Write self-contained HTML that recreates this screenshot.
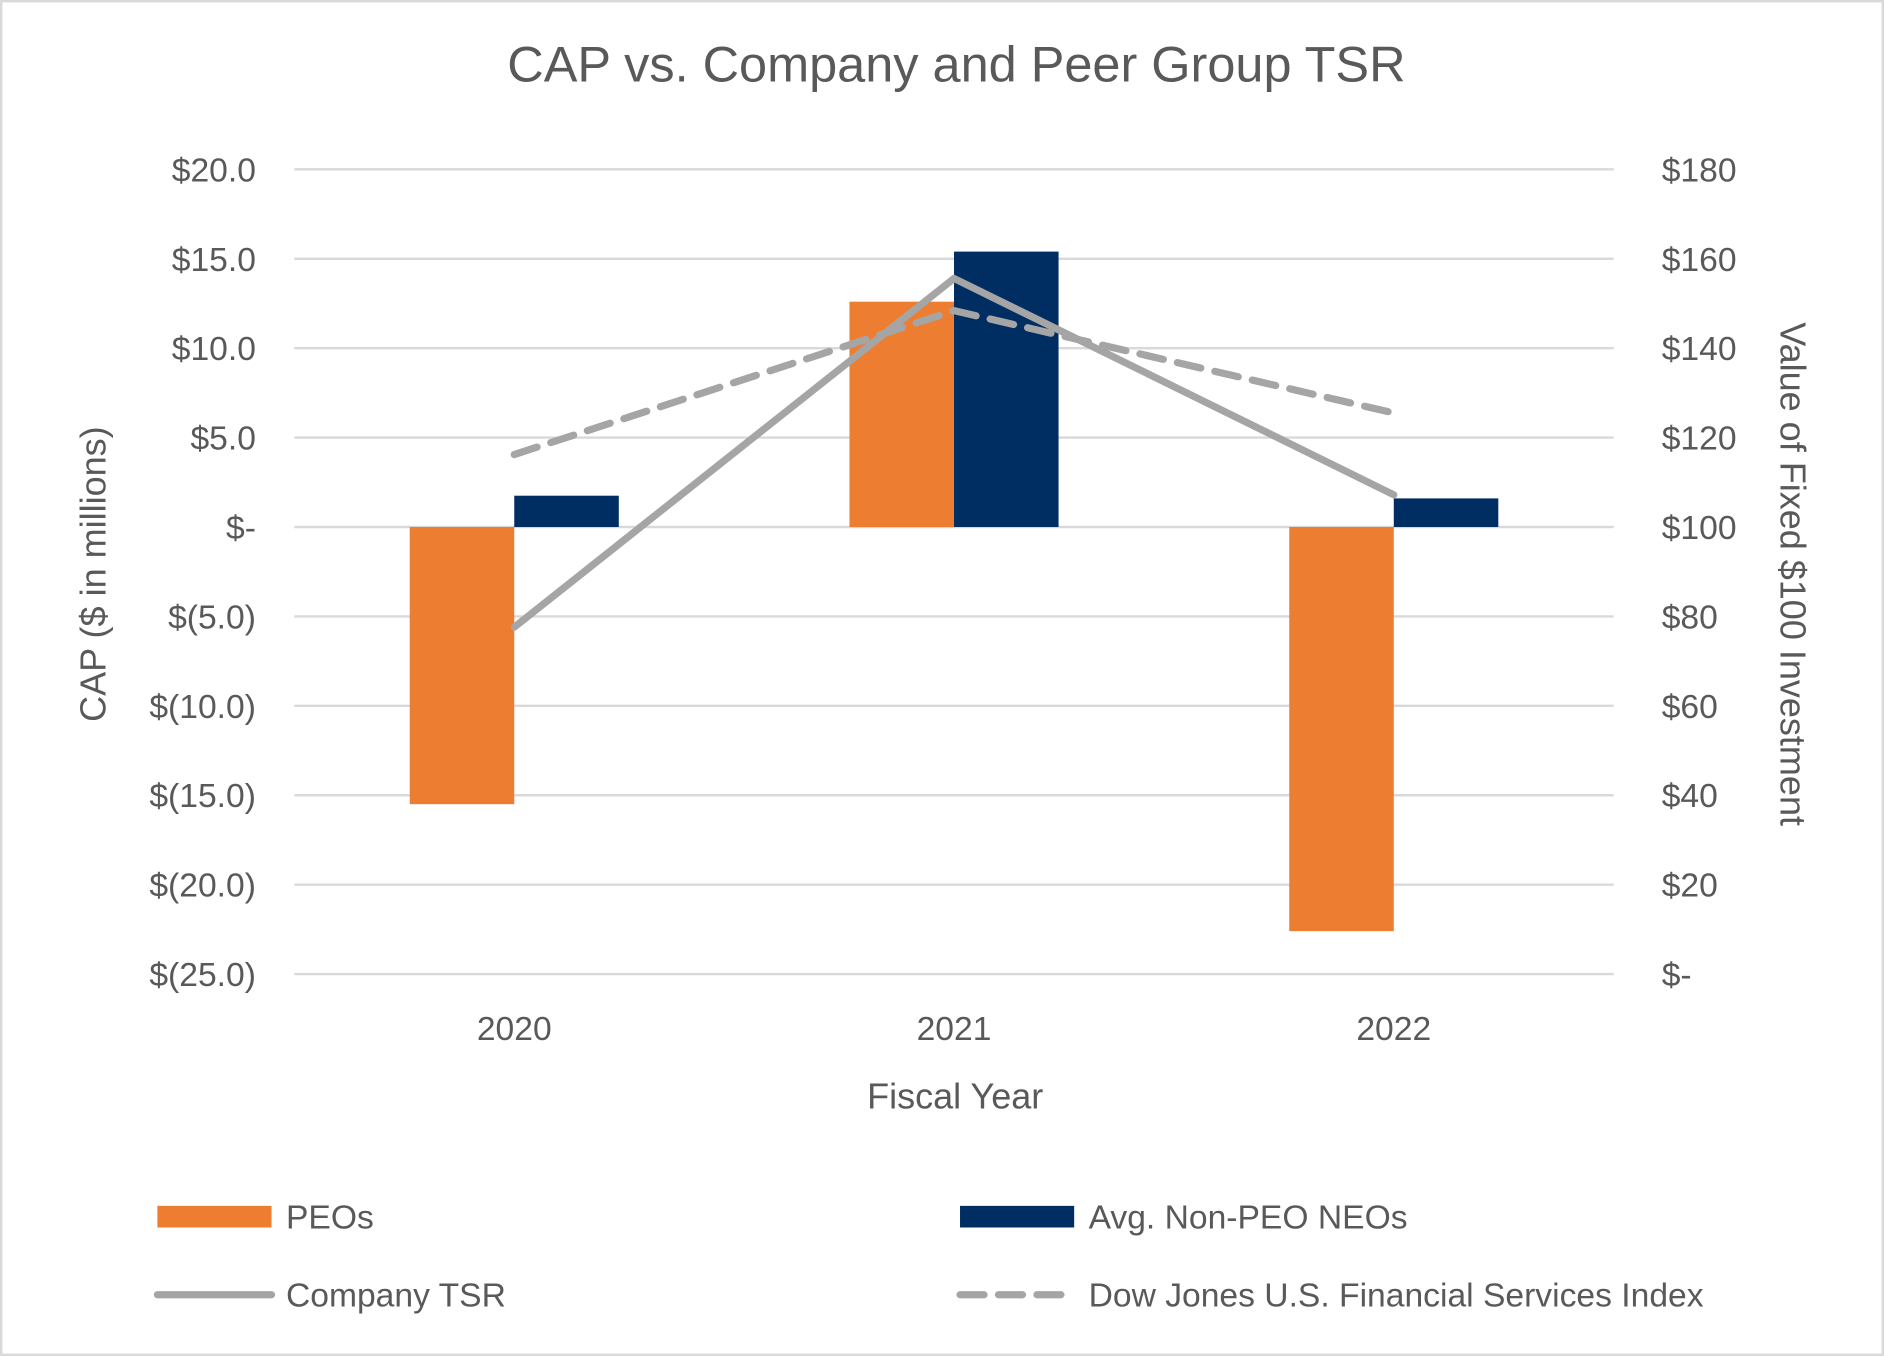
<!DOCTYPE html>
<html><head><meta charset="utf-8"><style>
html,body{margin:0;padding:0;background:#fff;}
svg{display:block;font-family:"Liberation Sans",sans-serif;}
</style></head><body>
<svg id="chart" width="1884" height="1356" viewBox="0 0 1568 1129" preserveAspectRatio="none">
<rect x="1" y="1" width="1566" height="1127" fill="#fff" stroke="#d9d9d9" stroke-width="2"/>
<text x="796" y="68" text-anchor="middle" font-size="42" fill="#595959">CAP vs. Company and Peer Group TSR</text>
<g id="grid"></g>
<g id="bars"></g>
<g id="lines"></g>
<g id="axes"></g>
<text transform="translate(88,478) rotate(-90)" text-anchor="middle" font-size="30" fill="#595959">CAP ($ in millions)</text>
<text transform="translate(1482,478) rotate(90)" text-anchor="middle" font-size="30" fill="#595959">Value of Fixed $100 Investment</text>
<text x="795" y="923" text-anchor="middle" font-size="30" fill="#595959">Fiscal Year</text>
<g font-size="28" fill="#595959">
<rect x="131" y="1004" width="95" height="18" fill="#ed7d31"/>
<text x="238" y="1023">PEOs</text>
<rect x="799" y="1004" width="95" height="18" fill="#002d62"/>
<text x="906" y="1023">Avg. Non-PEO NEOs</text>
<line x1="131" y1="1078" x2="226" y2="1078" stroke="#a5a5a5" stroke-width="6" stroke-linecap="round"/>
<text x="238" y="1088">Company TSR</text>
<line x1="799" y1="1078" x2="894" y2="1078" stroke="#a5a5a5" stroke-width="6" stroke-dasharray="20,12" stroke-linecap="round"/>
<text x="906" y="1088">Dow Jones U.S. Financial Services Index</text>
</g>
</svg>
<script>
const categories = ["2020","2021","2022"];
const peoValues = [-15.5, 12.6, -22.6];
const neoValues = [1.75, 15.4, 1.6];
const tsrValues = [77.6, 155.6, 107.2];
const djValues = [116.2, 148.4, 125.5];
const leftTicks = [20,15,10,5,0,-5,-10,-15,-20,-25];
const leftTickLabels = ["$20.0","$15.0","$10.0","$5.0","$-","$(5.0)","$(10.0)","$(15.0)","$(20.0)","$(25.0)"];
const rightTicks = [180,160,140,120,100,80,60,40,20,0];
const rightTickLabels = ["$180","$160","$140","$120","$100","$80","$60","$40","$20","$-"];

const NS="http://www.w3.org/2000/svg";
const plotTop=141, plotBottom=811, plotLeft=245, plotRight=1343;
const yL = v => plotTop + (20 - v) / 45 * (plotBottom - plotTop);
const yR = v => plotTop + (180 - v) / 180 * (plotBottom - plotTop);
const bandW = (plotRight - plotLeft) / categories.length;
const xC = i => plotLeft + bandW * (i + 0.5);
const barW = 87;
function mk(tag, attrs, parent){const e=document.createElementNS(NS,tag);for(const k in attrs)e.setAttribute(k,attrs[k]);document.getElementById(parent).appendChild(e);return e;}

leftTicks.forEach((t,i)=>{
  const l=mk('line',{x1:plotLeft,x2:plotRight,y1:yL(t),y2:yL(t),stroke:'#d9d9d9','stroke-width':2},'grid');
  
  
  const tx=mk('text',{x:213,y:yL(t)+10,'text-anchor':'end','font-size':28,fill:'#595959'},'axes');
  tx.textContent=leftTickLabels[i];
  
  
});
rightTicks.forEach((t,i)=>{
  const tx=mk('text',{x:1383,y:yR(t)+10,'font-size':28,fill:'#595959'},'axes');
  tx.textContent=rightTickLabels[i];
  
  
});
categories.forEach((c,i)=>{
  const tx=mk('text',{x:xC(i),y:866,'text-anchor':'middle','font-size':28,fill:'#595959'},'axes');
  tx.textContent=c;
  
  
  const p=peoValues[i], n=neoValues[i];
  const b1=mk('rect',{x:xC(i)-barW,y:Math.min(yL(0),yL(p)),width:barW,height:Math.abs(yL(p)-yL(0)),fill:'#ed7d31'},'bars');
  
  
  const b2=mk('rect',{x:xC(i),y:Math.min(yL(0),yL(n)),width:barW,height:Math.abs(yL(n)-yL(0)),fill:'#002d62'},'bars');
  
  
});
const tsrPts=tsrValues.map((v,i)=>xC(i)+','+yR(v)).join(' ');
const l1=mk('polyline',{points:tsrPts,fill:'none',stroke:'#a5a5a5','stroke-width':6,'stroke-linecap':'round','stroke-linejoin':'round'},'lines');


const djPts=djValues.map((v,i)=>xC(i)+','+yR(v)).join(' ');
const l2=mk('polyline',{points:djPts,fill:'none',stroke:'#a5a5a5','stroke-width':6,'stroke-dasharray':'20,12','stroke-linecap':'round','stroke-linejoin':'round'},'lines');


</script>
</body></html>
